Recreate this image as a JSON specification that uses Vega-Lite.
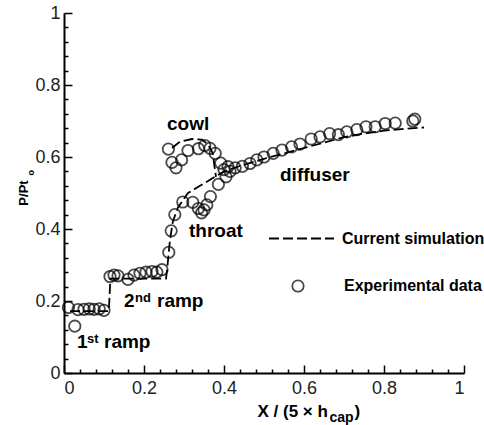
{
  "$schema": "https://vega.github.io/schema/vega-lite/v6.json",
  "width": 400,
  "height": 360,
  "autosize": {"type": "none"},
  "padding": {"left": 64, "top": 13, "right": 20, "bottom": 52},
  "background": "white",
  "config": {
    "view": {"stroke": null},
    "font": "Liberation Sans",
    "axis": {"grid": false, "domainColor": "black", "domainWidth": 2, "tickColor": "black", "tickWidth": 1.5, "labelFont": "Liberation Sans", "titleFont": "Liberation Sans", "titleFontWeight": "bold", "titleColor": "black", "labelColor": "#222"}
  },
  "datasets": {
    "sim": [
      {"wall": "ramp", "x": 0.015, "y": 0.172},
      {"wall": "ramp", "x": 0.112, "y": 0.172},
      {"wall": "ramp", "x": 0.116, "y": 0.262},
      {"wall": "ramp", "x": 0.255, "y": 0.262},
      {"wall": "ramp", "x": 0.258, "y": 0.29},
      {"wall": "ramp", "x": 0.265, "y": 0.37},
      {"wall": "ramp", "x": 0.272, "y": 0.42},
      {"wall": "ramp", "x": 0.285, "y": 0.46},
      {"wall": "ramp", "x": 0.31, "y": 0.5},
      {"wall": "ramp", "x": 0.34, "y": 0.52},
      {"wall": "ramp", "x": 0.37, "y": 0.54},
      {"wall": "ramp", "x": 0.4, "y": 0.56},
      {"wall": "ramp", "x": 0.44, "y": 0.575},
      {"wall": "ramp", "x": 0.5, "y": 0.595},
      {"wall": "ramp", "x": 0.55, "y": 0.61},
      {"wall": "ramp", "x": 0.6, "y": 0.625},
      {"wall": "ramp", "x": 0.65, "y": 0.64},
      {"wall": "ramp", "x": 0.7, "y": 0.655},
      {"wall": "ramp", "x": 0.75, "y": 0.665},
      {"wall": "ramp", "x": 0.8, "y": 0.673},
      {"wall": "ramp", "x": 0.85, "y": 0.678},
      {"wall": "ramp", "x": 0.9, "y": 0.682},
      {"wall": "cowl", "x": 0.27, "y": 0.625},
      {"wall": "cowl", "x": 0.29, "y": 0.643},
      {"wall": "cowl", "x": 0.32, "y": 0.65},
      {"wall": "cowl", "x": 0.345, "y": 0.648},
      {"wall": "cowl", "x": 0.36, "y": 0.635},
      {"wall": "cowl", "x": 0.372, "y": 0.61},
      {"wall": "cowl", "x": 0.376, "y": 0.575},
      {"wall": "cowl", "x": 0.38, "y": 0.545}
    ],
    "exp": [
      {"x": 0.011, "y": 0.182}, {"x": 0.027, "y": 0.13},
      {"x": 0.035, "y": 0.176}, {"x": 0.05, "y": 0.177}, {"x": 0.063, "y": 0.178}, {"x": 0.075, "y": 0.177}, {"x": 0.088, "y": 0.178}, {"x": 0.1, "y": 0.174},
      {"x": 0.115, "y": 0.268}, {"x": 0.125, "y": 0.272}, {"x": 0.135, "y": 0.27}, {"x": 0.16, "y": 0.26}, {"x": 0.175, "y": 0.272}, {"x": 0.19, "y": 0.277}, {"x": 0.205, "y": 0.28}, {"x": 0.22, "y": 0.282}, {"x": 0.232, "y": 0.28}, {"x": 0.245, "y": 0.287},
      {"x": 0.262, "y": 0.335}, {"x": 0.268, "y": 0.395}, {"x": 0.277, "y": 0.44}, {"x": 0.297, "y": 0.475}, {"x": 0.322, "y": 0.474}, {"x": 0.336, "y": 0.457}, {"x": 0.344, "y": 0.445}, {"x": 0.35, "y": 0.453}, {"x": 0.357, "y": 0.467}, {"x": 0.366, "y": 0.49}, {"x": 0.386, "y": 0.524}, {"x": 0.405, "y": 0.545},
      {"x": 0.261, "y": 0.622}, {"x": 0.27, "y": 0.585}, {"x": 0.28, "y": 0.57}, {"x": 0.294, "y": 0.592}, {"x": 0.31, "y": 0.618}, {"x": 0.336, "y": 0.623}, {"x": 0.352, "y": 0.632}, {"x": 0.365, "y": 0.624}, {"x": 0.378, "y": 0.61}, {"x": 0.392, "y": 0.583}, {"x": 0.4, "y": 0.565}, {"x": 0.41, "y": 0.573}, {"x": 0.415, "y": 0.56}, {"x": 0.428, "y": 0.57}, {"x": 0.446, "y": 0.574}, {"x": 0.465, "y": 0.582},
      {"x": 0.482, "y": 0.592}, {"x": 0.5, "y": 0.6}, {"x": 0.523, "y": 0.61}, {"x": 0.545, "y": 0.619}, {"x": 0.569, "y": 0.628}, {"x": 0.59, "y": 0.636}, {"x": 0.618, "y": 0.65}, {"x": 0.64, "y": 0.656}, {"x": 0.664, "y": 0.665}, {"x": 0.686, "y": 0.662}, {"x": 0.707, "y": 0.67}, {"x": 0.732, "y": 0.676}, {"x": 0.755, "y": 0.684}, {"x": 0.778, "y": 0.684}, {"x": 0.803, "y": 0.693}, {"x": 0.828, "y": 0.694}, {"x": 0.872, "y": 0.7}, {"x": 0.877, "y": 0.705}
    ],
    "labels": [
      {"t": "1", "x": 0.0325, "y": 0.069},
      {"t": "ramp", "x": 0.1, "y": 0.069},
      {"t": "2", "x": 0.15, "y": 0.183},
      {"t": "ramp", "x": 0.2325, "y": 0.183},
      {"t": "throat", "x": 0.3125, "y": 0.379},
      {"t": "diffuser", "x": 0.54, "y": 0.533},
      {"t": "cowl", "x": 0.2575, "y": 0.675}
    ],
    "sups": [
      {"t": "st", "x": 0.0575, "y": 0.083},
      {"t": "nd", "x": 0.1775, "y": 0.197}
    ]
  },
  "resolve": {"axis": {"x": "independent", "y": "independent"}},
  "layer": [
    {
      "data": {"name": "sim"},
      "mark": {"type": "line", "color": "black", "strokeWidth": 1.8},
      "encoding": {
        "x": {"field": "x", "type": "quantitative", "scale": {"domain": [0, 1], "nice": false},
          "axis": {"orient": "bottom", "values": [0, 0.2, 0.4, 0.6, 0.8, 1], "format": "~g", "tickSize": -8, "labelPadding": 14, "labelFontSize": 18, "labelBaseline": "top",
            "title": "X / (5 × h", "titleFontSize": 17, "titleX": 193, "titleY": 43, "titleAlign": "left", "titleBaseline": "alphabetic", "titleAnchor": null}},
        "y": {"field": "y", "type": "quantitative", "scale": {"domain": [0, 1], "nice": false},
          "axis": {"orient": "left", "values": [0, 0.2, 0.4, 0.6, 0.8, 1], "format": "~g", "tickSize": -8, "labelPadding": 12, "labelFontSize": 18,
            "title": "P/Pt", "titleFontSize": 13, "titleAngle": 270, "titleX": -37, "titleY": 179.5, "titleAlign": "center", "titleBaseline": "alphabetic"}},
        "detail": {"field": "wall"},
        "order": {"field": "x", "type": "quantitative"},
        "strokeDash": {"datum": "Current simulation", "scale": {"range": [[10, 4]]},
          "legend": {"title": null, "orient": "none", "legendX": 204, "legendY": 192, "padding": 0, "symbolType": "stroke", "symbolSize": 4225, "symbolStrokeWidth": 1.8, "symbolStrokeColor": "black", "labelOffset": 7, "labelFontSize": 16, "labelFontWeight": "bold", "labelFont": "Liberation Sans", "labelColor": "black"}}
      }
    },
    {
      "data": {"name": "exp"},
      "mark": {"type": "point", "filled": false, "color": "black", "size": 130, "strokeWidth": 1.8},
      "encoding": {
        "x": {"field": "x", "type": "quantitative",
          "axis": {"orient": "bottom", "values": [0.04, 0.08, 0.12, 0.16, 0.24, 0.28, 0.32, 0.36, 0.44, 0.48, 0.52, 0.56, 0.64, 0.68, 0.72, 0.76, 0.84, 0.88, 0.92, 0.96], "tickSize": -4, "labels": false, "domain": false,
            "title": "cap", "titleFontSize": 14, "titleX": 265, "titleY": 48, "titleAlign": "left", "titleBaseline": "alphabetic"}},
        "y": {"field": "y", "type": "quantitative",
          "axis": {"orient": "left", "values": [0.04, 0.08, 0.12, 0.16, 0.24, 0.28, 0.32, 0.36, 0.44, 0.48, 0.52, 0.56, 0.64, 0.68, 0.72, 0.76, 0.84, 0.88, 0.92, 0.96], "tickSize": -4, "labels": false, "domain": false,
            "title": "o", "titleFontSize": 9, "titleAngle": 270, "titleX": -31, "titleY": 162, "titleAlign": "left", "titleBaseline": "alphabetic"}},
        "shape": {"datum": "Experimental data", "scale": {"range": ["circle"]},
          "legend": {"title": null, "orient": "none", "legendX": 226, "legendY": 265, "padding": 0, "symbolSize": 130, "symbolStrokeWidth": 1.8, "symbolStrokeColor": "black", "symbolFillColor": "transparent", "labelOffset": 38, "labelFontSize": 16, "labelFontWeight": "bold", "labelFont": "Liberation Sans", "labelColor": "black"}}
      }
    },
    {
      "data": {"name": "labels"},
      "mark": {"type": "text", "align": "left", "baseline": "alphabetic", "fontSize": 19, "fontWeight": "bold", "font": "Liberation Sans", "color": "black"},
      "encoding": {
        "x": {"field": "x", "type": "quantitative",
          "axis": {"orient": "bottom", "ticks": false, "labels": false, "domain": false, "title": ")", "titleFontSize": 17, "titleX": 290, "titleY": 43, "titleAlign": "left", "titleBaseline": "alphabetic"}},
        "y": {"field": "y", "type": "quantitative", "axis": null},
        "text": {"field": "t"}
      }
    },
    {
      "data": {"name": "sups"},
      "mark": {"type": "text", "align": "left", "baseline": "alphabetic", "fontSize": 13, "fontWeight": "bold", "font": "Liberation Sans", "color": "black"},
      "encoding": {
        "x": {"field": "x", "type": "quantitative", "axis": null},
        "y": {"field": "y", "type": "quantitative", "axis": null},
        "text": {"field": "t"}
      }
    }
  ]
}
